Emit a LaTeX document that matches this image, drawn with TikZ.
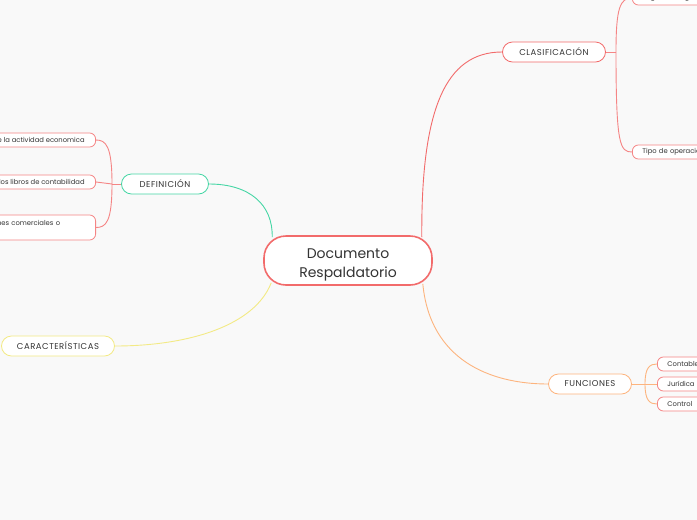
\documentclass[tikz,border=0pt]{standalone}
\usepackage{fontspec}
\setmainfont{Poppins}
\newfontfamily\capsfont[LetterSpace=6]{Poppins}
\usetikzlibrary{positioning}
\definecolor{bgcol}{HTML}{F9F9F9}
\definecolor{mainred}{HTML}{F26B6B}
\definecolor{leafred}{HTML}{F58585}
\definecolor{defgreen}{HTML}{46D6A5}
\definecolor{caryellow}{HTML}{F3EA85}
\definecolor{funorange}{HTML}{FDB47E}
\definecolor{inkgray}{HTML}{333333}

\begin{document}
\begin{tikzpicture}[
  x=1pt, y=-1pt,
  root/.style={draw=mainred, line width=1.6pt, rounded corners=22pt, fill=white, minimum width=168pt, minimum height=49pt, inner ysep=0pt, align=center, text=inkgray, font=\fontsize{14}{19}\selectfont},
  topic/.style={draw=#1, line width=0.8pt, rounded corners=10pt, fill=white, minimum height=20pt, text=inkgray, font=\capsfont\fontsize{8.5}{10}\selectfont},
  leaf/.style={draw=#1, line width=0.8pt, rounded corners=6pt, fill=white, minimum height=14pt, inner xsep=10pt, text=inkgray, font=\fontsize{6.8}{9}\selectfont},
  link/.style={draw=#1, line width=0.9pt}
]
\useasboundingbox (0,0) rectangle (697,520);
\fill[bgcol] (0,0) rectangle (697,520);
\clip (0,0) rectangle (697,520);

% Central topic
\node[root] (root) at (348,260.5) {\rule{0pt}{18pt}Documento\hspace{6pt}\\Respaldatorio};

% Main topics
\node[topic=mainred, minimum width=103pt] (clas) at (554,52) {CLASIFICACIÓN};
\node[topic=defgreen, minimum width=87pt] (def) at (165,184) {DEFINICIÓN};
\node[topic=caryellow, minimum width=113pt] (car) at (58,346) {CARACTERÍSTICAS};
\node[topic=funorange, minimum width=83pt] (fun) at (590,384) {FUNCIONES};

% Subtopics of CLASIFICACIÓN
\node[leaf=leafred, anchor=west, text width=80pt, align=left] (clas1) at (632,-2) {Según su origen};
\node[leaf=leafred, anchor=west, text width=80pt, align=left] (clas2) at (632,152) {Tipo de operación};

% Subtopics of DEFINICIÓN
\node[leaf=leafred, anchor=east, inner xsep=11pt] (def1) at (96,140) {de la actividad economica};
\node[leaf=leafred, anchor=east, inner xsep=11pt] (def2) at (96,182) {los libros de contabilidad};
\node[leaf=leafred, anchor=east, inner xsep=11pt, minimum height=25pt, text width=118pt, align=left] (def3) at (96,227.5) {operaciones comerciales o\\\phantom{x}};

% Subtopics of FUNCIONES
\node[leaf=leafred, anchor=west, text width=50pt, align=left] (fun1) at (657,364) {Contable};
\node[leaf=leafred, anchor=west, text width=50pt, align=left] (fun2) at (657,384) {Jurídica};
\node[leaf=leafred, anchor=west, text width=50pt, align=left] (fun3) at (657,404) {Control};

% Branch points
\coordinate (clasfork) at (616,52);
\coordinate (deffork) at (112,184);
\coordinate (funfork) at (645,384);

% Connectors from the centre
\draw[link=mainred] ([xshift=-11pt,yshift=-2pt]root.north east) .. controls (421,110) and (445,52) .. (clas.west);
\draw[link=defgreen] ([xshift=9pt,yshift=-2pt]root.north west) .. controls (273,205) and (250,184) .. (def.east);
\draw[link=caryellow] ([xshift=8pt,yshift=3pt]root.south west) .. controls (255,325) and (190,346) .. (car.east);
\draw[link=funorange] ([xshift=-10pt,yshift=2pt]root.south east) .. controls (430,360) and (490,384) .. (fun.west);

% Connectors to subtopics
\draw[link=leafred] (clas.east) -- (clasfork);
\draw[link=leafred] (clasfork) .. controls (616,8) and (620,-2) .. (clas1.west);
\draw[link=leafred] (clasfork) .. controls (616,145) and (620,152) .. (clas2.west);

\draw[link=leafred] (def.west) -- (deffork);
\draw[link=leafred] (deffork) .. controls (112,146) and (106,140) .. (def1.east);
\draw[link=leafred] (deffork) -- (def2.east);
\draw[link=leafred] (deffork) .. controls (112,222) and (106,227.5) .. (def3.east);

\draw[link=funorange] (fun.east) -- (funfork);
\draw[link=funorange] (funfork) .. controls (645,367) and (650,364) .. (fun1.west);
\draw[link=funorange] (funfork) -- (fun2.west);
\draw[link=funorange] (funfork) .. controls (645,401) and (650,404) .. (fun3.west);

\end{tikzpicture}
\end{document}
